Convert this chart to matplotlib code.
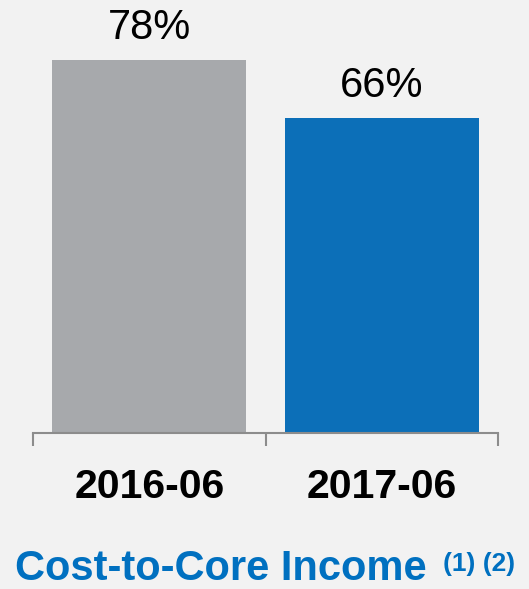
import matplotlib.pyplot as plt

categories = ['2016-06', '2017-06']
values = [78, 66]
labels = ['78%', '66%']
colors = ['#A7A9AC', '#0C6FB8']

plt.rcParams['font.family'] = ['Liberation Sans', 'DejaVu Sans']

fig = plt.figure(figsize=(5.29, 5.89), dpi=100, facecolor='#F2F2F2')
ax = fig.add_axes([33 / 529, 156 / 589, 465 / 529, 433 / 589])
ax.set_facecolor('#F2F2F2')

x = range(len(categories))
bars = ax.bar(x, values, width=0.835, color=colors, zorder=2)
for bar, lab in zip(bars, labels):
    ax.annotate(lab, (bar.get_x() + bar.get_width() / 2, bar.get_height()),
                xytext=(0, 15), textcoords='offset points',
                ha='center', va='baseline', fontsize=30, color='black')

ax.set_xlim(-0.5, 1.5)
ax.set_ylim(0, 90.6)
ax.set_yticks([])
for s in ['top', 'right', 'left']:
    ax.spines[s].set_visible(False)
ax.spines['bottom'].set_color('#8C8C8C')
ax.spines['bottom'].set_linewidth(1.5)
ax.spines['bottom'].set_zorder(3)

ax.set_xticks(list(x))
ax.set_xticklabels(categories, fontsize=29.5, fontweight='bold')
ax.tick_params(axis='x', which='major', length=0, pad=25)
ax.set_xticks([-0.5, 0.5, 1.5], minor=True)
ax.tick_params(axis='x', which='minor', length=9, width=1.5, color='#8C8C8C')

fig.text(15 / 529, 9 / 589, 'Cost-to-Core Income', fontsize=30, fontweight='bold',
         color='#0070C0', ha='left', va='baseline')
fig.text(443 / 529, 18 / 589, '(1) (2)', fontsize=19, fontweight='bold',
         color='#0070C0', ha='left', va='baseline')

fig.savefig('out.png', dpi=100, facecolor=fig.get_facecolor())
